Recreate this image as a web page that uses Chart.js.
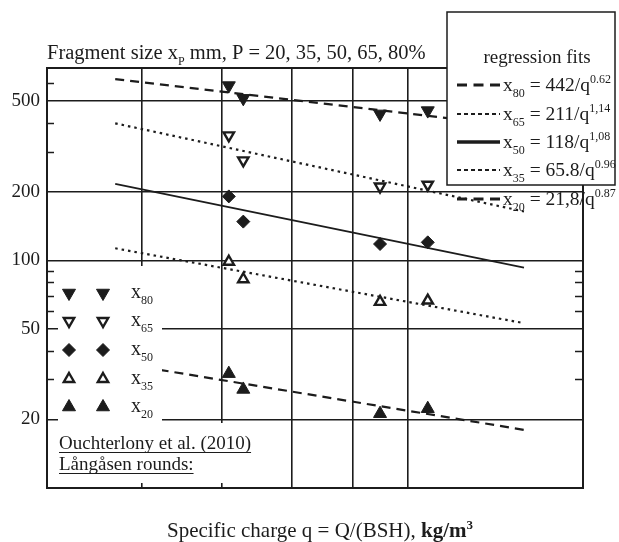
<!DOCTYPE html>
<html lang="en">
<head>
  <meta charset="UTF-8" />
  <title>Fragment size vs specific charge</title>
  <script src="https://cdn.jsdelivr.net/npm/chart.js@4"></script>
  <style>
    body { margin: 0; background: #fff; }
    canvas { display: block; }
  </style>
</head>
<body>
  <canvas id="fragChart" width="619" height="542"></canvas>

  <script>
    // measured rounds: specific charge q (kg/m3) and fragment sizes (mm)
    const qValues = [0.709, 0.729, 0.948, 1.039];
    const x80 = [586, 515, 440, 455];
    const x65 = [354, 275, 211, 215];
    const x50 = [191, 148, 118, 120];
    const x35 = [98.6, 82.6, 65.7, 66.6];
    const x20 = [31.8, 27.1, 21.2, 22.3];

    // regression fit lines, end points
    const fitQ = [0.57, 1.25];
    const fit80 = [626, 385];
    const fit65 = [400, 164];
    const fit50 = [217, 93];
    const fit35 = [113, 53];
    const fit20 = [35.6, 18.0];

    // legend texts: subscript, constant, exponent
    const fitNames = ['80', '65', '50', '35', '20'];
    const fitConst = ['442', '211', '118', '65.8', '21,8'];
    const fitExp = ['0.62', '1,14', '1,08', '0.96', '0.87'];

    const yTicks = [20, 50, 100, 200, 500];
    const yMinorTicks = [30, 40, 60, 70, 80, 90, 300, 400, 600];
    const xGrid = [0.6, 0.7, 0.8, 0.9, 1.0];

    const FONT = '"Liberation Serif", "Times New Roman", serif';
    const INK = '#1c1c1c';

    const markerStyles = [
      { pointStyle: 'triangle', rotation: 180, fill: INK, radius: 7.5, border: 1 },
      { pointStyle: 'triangle', rotation: 180, fill: '#fff', radius: 6, border: 2.4 },
      { pointStyle: 'rectRot', rotation: 0, fill: INK, radius: 6.5, border: 1 },
      { pointStyle: 'triangle', rotation: 0, fill: '#fff', radius: 6, border: 2.4 },
      { pointStyle: 'triangle', rotation: 0, fill: INK, radius: 7.5, border: 1 },
    ];
    const lineStyles = [
      { dash: [9, 6], width: 2.2 },
      { dash: [2.5, 4], width: 2.2 },
      { dash: [], width: 1.8 },
      { dash: [2.5, 4], width: 2.2 },
      { dash: [9, 6], width: 2.2 },
    ];

    const measured = [x80, x65, x50, x35, x20];
    const fits = [fit80, fit65, fit50, fit35, fit20];

    const markerSets = measured.map((ys, i) => ({
      type: 'scatter',
      label: 'x' + fitNames[i],
      data: ys.map((y, j) => ({ x: qValues[j], y })),
      pointStyle: markerStyles[i].pointStyle,
      rotation: markerStyles[i].rotation,
      radius: markerStyles[i].radius,
      backgroundColor: markerStyles[i].fill,
      borderColor: INK,
      borderWidth: markerStyles[i].border,
    }));

    const fitSets = fits.map((ys, i) => ({
      type: 'line',
      label: 'fit x' + fitNames[i],
      data: ys.map((y, j) => ({ x: fitQ[j], y })),
      borderColor: INK,
      borderWidth: lineStyles[i].width,
      borderDash: lineStyles[i].dash,
      pointRadius: 0,
      fill: false,
    }));

    // text with sub/superscripts, parts = [text, kind]
    function drawRich(ctx, parts, x, y, size, align) {
      const fontFor = k => {
        const small = k === 'sub' || k === 'sup' || k === 'bsup';
        const bold = k === 'b' || k === 'bsup';
        return (bold ? 'bold ' : '') + (small ? Math.round(size * 0.6) : size) + 'px ' + FONT;
      };
      let w = 0;
      parts.forEach(([t, k]) => { ctx.font = fontFor(k); w += ctx.measureText(t).width; });
      let cx = align === 'center' ? x - w / 2 : x;
      parts.forEach(([t, k]) => {
        ctx.font = fontFor(k);
        const dy = k === 'sub' ? size * 0.3 : (k === 'sup' || k === 'bsup') ? -size * 0.4 : 0;
        ctx.fillText(t, cx, y + dy);
        cx += ctx.measureText(t).width;
      });
      return w;
    }

    function underline(ctx, x, y, w) {
      ctx.beginPath();
      ctx.moveTo(x, y);
      ctx.lineTo(x + w, y);
      ctx.stroke();
    }

    const decor = {
      id: 'decor',
      afterDatasetsDraw(chart) {
        const { ctx, chartArea: a, scales: { y } } = chart;
        const drawPoint = Chart.helpers.drawPoint;
        ctx.save();
        ctx.textBaseline = 'alphabetic';

        // frame
        ctx.strokeStyle = INK;
        ctx.lineWidth = 2;
        ctx.strokeRect(a.left, a.top, a.right - a.left, a.bottom - a.top);

        // minor ticks, inside on both sides
        ctx.lineWidth = 1.3;
        yMinorTicks.forEach(v => {
          const py = Math.round(y.getPixelForValue(v)) + 0.5;
          ctx.beginPath();
          ctx.moveTo(a.left, py); ctx.lineTo(a.left + 7, py);
          ctx.moveTo(a.right, py); ctx.lineTo(a.right - 8, py);
          ctx.stroke();
        });

        // marker key bottom left, on white
        ctx.fillStyle = '#fff';
        ctx.fillRect(a.left + 11, 266, 104, a.bottom - 5 - 266);
        ctx.fillRect(a.left + 11, 423, 197, a.bottom - 5 - 423);

        const rows = [293, 321, 350, 379, 407];
        markerStyles.forEach((m, i) => {
          [69, 103].forEach(px => {
            ctx.fillStyle = m.fill;
            ctx.strokeStyle = INK;
            ctx.lineWidth = m.border;
            drawPoint(ctx, { pointStyle: m.pointStyle, rotation: m.rotation, radius: m.radius, borderWidth: m.border }, px, rows[i]);
          });
          ctx.fillStyle = INK;
          drawRich(ctx, [['x', ''], [fitNames[i], 'sub']], 131, rows[i] + 5, 20, 'left');
        });

        ctx.fillStyle = INK;
        ctx.strokeStyle = INK;
        ctx.lineWidth = 1.2;
        ctx.font = '19px ' + FONT;
        const src1 = 'Ouchterlony et al. (2010)';
        const src2 = 'Långåsen rounds:';
        ctx.fillText(src1, 59, 449);
        underline(ctx, 59, 452.5, ctx.measureText(src1).width);
        ctx.fillText(src2, 59, 470);
        underline(ctx, 59, 473.5, ctx.measureText(src2).width);

        // regression fits box, top right
        ctx.fillStyle = '#fff';
        ctx.fillRect(447, 12, 168, 173);
        ctx.strokeStyle = INK;
        ctx.lineWidth = 1.5;
        ctx.strokeRect(447, 12, 168, 173);

        ctx.fillStyle = INK;
        ctx.font = '19px ' + FONT;
        ctx.textAlign = 'center';
        ctx.fillText('regression fits', 537, 63);
        ctx.textAlign = 'left';

        const keyRows = [85, 114, 142, 170, 199];
        const keyLines = [
          { dash: [10, 6.5], width: 3.2 },
          { dash: [4, 3], width: 2 },
          { dash: [], width: 3.5 },
          { dash: [4, 3], width: 2 },
          { dash: [10, 6.5], width: 3.2 },
        ];
        keyRows.forEach((ry, i) => {
          ctx.strokeStyle = INK;
          ctx.lineWidth = keyLines[i].width;
          ctx.setLineDash(keyLines[i].dash);
          ctx.beginPath();
          ctx.moveTo(457, ry);
          ctx.lineTo(500, ry);
          ctx.stroke();
          ctx.setLineDash([]);
          drawRich(ctx, [['x', ''], [fitNames[i], 'sub'], [' = ' + fitConst[i] + '/q', ''], [fitExp[i], 'sup']], 503, ry + 6, 19.5, 'left');
        });

        // titles
        ctx.fillStyle = INK;
        drawRich(ctx, [['Fragment size x', ''], ['P', 'sub'], [' mm, P = 20, 35, 50, 65, 80%', '']], 47, 59, 20.5, 'left');
        drawRich(ctx, [['Specific charge q = Q/(BSH), ', ''], ['kg/m', 'b'], ['3', 'bsup']], 320, 537, 21, 'center');

        ctx.restore();
      }
    };

    const ctx = document.getElementById('fragChart').getContext('2d');

    new Chart(ctx, {
      type: 'scatter',
      data: { datasets: [...markerSets, ...fitSets] },
      options: {
        responsive: false,
        animation: false,
        layout: { padding: { top: 68, right: 36, left: 0, bottom: 0 } },
        plugins: {
          legend: { display: false },
          tooltip: { enabled: false },
        },
        scales: {
          x: {
            type: 'logarithmic',
            min: 0.5,
            max: 1.4,
            afterBuildTicks: s => { s.ticks = xGrid.map(v => ({ value: v })); },
            afterFit: s => { s.height = 54; },
            ticks: { display: false },
            grid: { color: INK, lineWidth: 1.6, drawTicks: false },
            border: { color: INK, width: 2 },
          },
          y: {
            type: 'logarithmic',
            min: 10,
            max: 700,
            afterBuildTicks: s => { s.ticks = yTicks.map(v => ({ value: v })); },
            afterFit: s => { s.width = 47; },
            ticks: {
              color: INK,
              font: { family: FONT, size: 19 },
              padding: 7,
              callback: v => String(v),
            },
            grid: { color: INK, lineWidth: 1.6, drawTicks: false },
            border: { color: INK, width: 2 },
          },
        },
      },
      plugins: [decor],
    });
  </script>
</body>
</html>
